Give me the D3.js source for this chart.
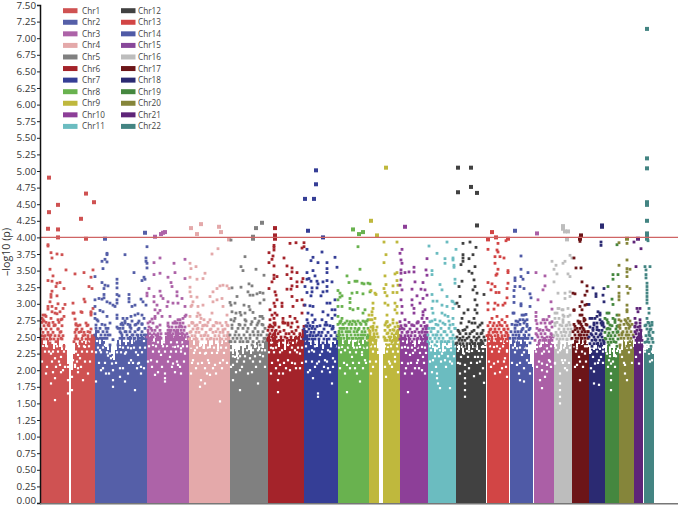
<!DOCTYPE html>
<html lang="en">
<head>
<meta charset="utf-8">
<title>Manhattan plot</title>
<script src="https://cdn.jsdelivr.net/npm/d3@7"></script>
<style>
html, body { margin: 0; padding: 0; background: #fff; }
svg { display: block; font-family: "Open Sans", sans-serif; }
</style>
</head>
<body>
<div id="chart"></div>
<script>
var chrNames = ["Chr1","Chr2","Chr3","Chr4","Chr5","Chr6","Chr7","Chr8","Chr9","Chr10","Chr11","Chr12","Chr13","Chr14","Chr15","Chr16","Chr17","Chr18","Chr19","Chr20","Chr21","Chr22"];
var chrColors = ["#cf5252","#555fa8","#ad63a8","#e4a9aa","#808080","#a4232a","#353e96","#69b24f","#bfb83d","#8d3f98","#6bbcc0","#414141","#d24545","#4f5aa6","#ab5fa6","#bdbdbd","#6c1518","#2b2a72","#45873f","#85853a","#5e2478","#438482"];
var legendChr15Color = "#88489a";
var chrStarts = [0,54,106,148,189,227,263,297,328,359,387,415,446,469,493,513,531,548,564,578,593,603];
var chrLengths = [54,52,42,41,38,36,34,31,31,28,28,30,22,23,20,18,17,16,14,15,9,10];
var yTicks = [0,0.25,0.5,0.75,1,1.25,1.5,1.75,2,2.25,2.5,2.75,3,3.25,3.5,3.75,4,4.25,4.5,4.75,5,5.25,5.5,5.75,6,6.25,6.5,6.75,7,7.25,7.5];
var threshold = 4;

// top of the solid mass of points, one value per 2 position units
var chr1Tops = [2.48,2.4,2.35,2.45,2.52,2.4,2.32,2.38,2.46,2.35,2.3,2.4,2.3,2.1,0,2,2.25,2.42,2.38,2.46,2.5,2.44,2.4,2.52,2.46,2.5,2.55];
var chr2Tops = [2.6,2.48,2.4,2.5,2.44,2.35,2.3,2.4,2.25,2.15,2.3,2.46,2.38,2.52,2.45,2.38,2.46,2.52,2.4,2.5,2.43,2.55,2.45,2.52,2.48,2.55];
var chr3Tops = [2.6,2.5,2.55,2.42,2.48,2.56,2.5,2.38,2.44,2.52,2.58,2.62,2.55,2.48,2.58,2.62,2.52,2.58,2.5,2.45,2.52];
var chr4Tops = [2.5,2.45,2.38,2.5,2.42,2.35,2.4,2.32,2.4,2.45,2.3,2.38,2.45,2.4,2.32,2.5,2.4,2.45,2.48,2.52,2.55];
var chr5Tops = [2.38,2.25,2.32,2.2,2.3,2.38,2.25,2.33,2.38,2.3,2.25,2.38,2.33,2.43,2.3,2.38,2.33,2.43,2.48];
var chr6Tops = [2.55,2.4,2.5,2.6,2.45,2.35,2.48,2.4,2.3,2.45,2.38,2.48,2.4,2.5,2.42,2.52,2.45,2.6];
var chr7Tops = [2.6,2.52,2.42,2.38,2.48,2.4,2.35,2.45,2.4,2.32,2.4,2.48,2.4,2.35,2.42,2.4,2.45];
var chr8Tops = [2.6,2.5,2.4,2.45,2.52,2.4,2.46,2.35,2.42,2.48,2.38,2.5,2.4,2.45,2.52,2.55];
var chr9Tops = [2.6,2.5,2.55,2.45,2.25,0,0,2.25,2.45,2.4,2.5,2.45,2.55,2.5,2.6,2.55];
var chr10Tops = [2.5,2.45,2.52,2.4,2.5,2.45,2.4,2.35,2.48,2.4,2.52,2.45,2.55,2.55];
var chr11Tops = [2.42,2.38,2.33,2.28,2.38,2.33,2.42,2.28,2.36,2.42,2.33,2.38,2.42,2.38];
var chr12Tops = [2.38,2.3,2.38,2.25,2.33,2.38,2.3,2.38,2.33,2.42,2.3,2.38,2.42,2.33,2.38];
var chr13Tops = [2.55,2.45,2.52,2.4,2.48,2.55,2.45,2.5,2.4,2.48,2.55];
var chr14Tops = [2.4,2.5,2.35,2.45,2.52,2.4,2.5,2.55,2.4,2.25,2.1,2.05];
var chr15Tops = [2.3,2.4,2.45,2.35,2.4,2.5,2.4,2.45,2.5,2.4];
var chr16Tops = [2.35,2.4,2.45,2.3,2.4,2.35,2.45,2.38,2.4];
var chr17Tops = [2.4,2.45,2.35,2.4,2.5,2.4,2.45,2.4,2.35];
var chr18Tops = [2.25,2.38,2.3,2.33,2.43,2.3,2.38,2.33];
var chr19Tops = [2.3,2.38,2.25,2.33,2.2,2.33,2.3];
var chr20Tops = [2.4,2.3,2.45,2.35,2.5,2.4,2.45,2.35];
var chr21Tops = [2.4,2.5,2.55,2.6,2.45];
var chr22Tops = [2.3,2.38,2.33,2.38,2.25];

// sparse points: [position within chromosome, -log10 p]
var chr1Points = [[8,4.9],[8,4.38],[17,4.49],[7,4.13],[17,4.12],[17,4],[40,4.28],[45,4.66],[53,4.53],[45,3.98],[7,3.87],[7,3.89],[10,3.77],[11,3.69],[16,3.75],[21,3.74],[9,3.52],[25,3.51],[34,3.45],[43,3.47],[52,3.51],[50,3.4],[12,3.42],[7,3.35],[11,3.34],[19,3.32],[16,3.31],[15,3.26],[11,3.19],[10,3.14],[10,3.1],[16,3.12],[23,3.23],[48,3.26],[51,3.23],[43,3.07],[44,3.03],[32,3.01],[24,2.99],[17,3],[9,3.03],[7,2.96],[11,2.96],[7,2.92],[11,2.88],[15,2.93],[22,2.93],[19,2.88],[16,2.85],[23,2.81],[21,2.77],[17,2.76],[34,2.77],[41,2.87],[33,2.86],[52,2.93],[50,2.88],[50,2.83],[1,2.78],[4,2.83],[2,2.76],[8,2.71],[14,2.68],[35,2.7],[47,2.68],[2,2.83],[5,2.81],[3,2.74],[7,2.68],[10,2.78],[14,2.86],[20,2.76],[14,2.68],[17,2.62],[20,2.58],[7,2.53],[3,2.51],[10,2.53],[20,2.48],[15,2.43],[9,2.41],[2,2.33],[23,2.36],[32,2.86],[40,2.88],[35,2.68],[39,2.68],[35,2.61],[40,2.58],[45,2.71],[47,2.58],[44,2.53],[35,2.48],[33,2.43],[39,2.41],[50,2.86],[52,2.46],[47,2.41],[52,2.33]];
var chr2Points = [[10,3.98],[12,3.76],[12,3.74],[7,3.64],[10,3.67],[12,3.63],[8,3.53],[0,3.41],[30,3.74],[39,3.47],[50,4.07],[52,3.86],[51,3.69],[51,3.64],[52,3.61],[52,3.54],[49,3.4],[47,3.35],[50,3.37],[7,3.32],[10,3.28],[13,3.27],[9,3.23],[22,3.37],[22,3.31],[22,3.24],[9,3.14],[9,3.09],[12,3.03],[15,3.01],[18,2.98],[22,3.14],[24,3.12],[22,3.06],[22,3.01],[20,2.96],[34,3.14],[34,3.08],[34,3.03],[40,2.98],[37,2.96],[46,3.07],[48,3.03],[51,2.98],[0,2.96],[4,3.08],[7,3.07],[0,3.06],[5,2.9],[8,2.88],[12,2.81],[0,2.85],[0,2.78],[2,2.76],[22,2.83],[22,2.78],[28,2.78],[32,2.78],[36,2.81],[40,2.83],[43,2.85],[47,2.83],[49,2.78],[37,2.74],[15,2.71],[1,2.68],[22,2.65],[27,2.71],[30,2.71],[25,2.63],[35,2.65],[40,2.68],[47,2.7],[3,2.58],[10,2.68],[13,2.63],[15,2.53],[10,2.48],[18,2.46],[23,2.63],[28,2.68],[26,2.56],[31,2.58],[33,2.48],[38,2.53],[43,2.61],[46,2.48],[41,2.43],[48,2.38],[35,2.68],[43,2.71],[23,2.38],[15,2.38]];
var chr3Points = [[8,4.01],[14,4.05],[16,4.07],[18,4.08],[13,3.69],[7,3.62],[27,3.61],[38,3.67],[7,3.44],[13,3.46],[28,3.47],[21,3.4],[38,3.38],[24,3.32],[25,3.26],[2,3.23],[0,3.16],[0,3.12],[7,3.11],[13,3.19],[14,3.12],[16,3.08],[30,3.18],[35,3.08],[30,3.12],[21,3.03],[26,3.01],[31,3.01],[7,3.03],[10,2.98],[8,2.91],[13,2.9],[11,2.86],[20,2.96],[15,2.81],[8,2.81],[5,2.77],[1,2.71],[23,2.81],[38,2.96],[38,2.81],[33,2.76],[28,2.71],[21,2.67],[33,2.67],[10,2.65],[3,2.73],[8,2.78],[4,2.63],[13,2.68],[9,2.53],[3,2.48],[6,2.41],[14,2.48],[23,2.58],[28,2.73],[31,2.76],[36,2.78],[39,2.83],[29,2.58],[34,2.66],[38,2.53],[33,2.43],[26,2.38],[21,2.33],[13,2.33]];
var chr4Points = [[2,4.14],[8,4.05],[12,4.2],[30,4.16],[32,4.08],[40,3.97],[29,3.83],[23,3.75],[1,3.61],[2,3.53],[7,3.56],[1,3.4],[8,3.37],[14,3.38],[16,3.46],[24,3.18],[28,3.23],[31,3.27],[34,3.28],[38,3.27],[40,3.23],[1,3.25],[1,3.18],[2,3.11],[4,3.03],[3,2.98],[8,3.1],[9,2.96],[14,2.98],[21,3.11],[24,3.03],[28,3.06],[33,3.08],[34,2.96],[23,2.86],[38,2.83],[8,2.81],[11,2.83],[15,2.76],[21,2.76],[28,2.71],[1,2.81],[3,2.71],[8,2.68],[14,2.67],[24,2.67],[31,2.71],[38,2.68],[2,2.96],[9,2.86],[12,2.78],[4,2.71],[9,2.63],[16,2.68],[21,2.61],[27,2.58],[34,2.61],[39,2.53],[2,2.58],[16,2.53],[22,2.48],[31,2.43],[36,2.38],[9,2.43],[2,2.36],[12,2.33],[21,2.31]];
var chr5Points = [[32,4.22],[26,4.14],[23,4.01],[23,3.98],[1,3.96],[15,3.71],[11,3.56],[13,3.5],[26,3.52],[34,3.43],[19,3.3],[22,3.27],[2,3.24],[11,3.25],[18,3.18],[20,3.13],[23,3.13],[27,3.15],[30,3.17],[33,3.16],[7,3.11],[0,3.02],[5,3.01],[14,2.98],[19,2.96],[34,3.06],[30,3.01],[2,2.88],[10,2.87],[15,2.86],[20,2.91],[23,2.87],[30,2.81],[33,2.78],[5,2.78],[15,2.76],[22,2.73],[28,2.71],[10,2.68],[2,2.68],[25,2.78],[32,2.81],[18,2.63],[27,2.68],[33,2.68],[23,2.58],[20,2.53],[28,2.53],[35,2.48],[17,2.43],[30,2.38],[22,2.38],[1,2.98],[6,2.86],[1,2.76],[11,2.83],[8,2.63],[15,2.68],[5,2.53],[11,2.48],[0,2.43]];
var chr6Points = [[7,4.14],[7,4.03],[7,3.98],[6,3.88],[6,3.85],[6,3.81],[1,3.77],[5,3.72],[4,3.67],[1,3.62],[6,3.57],[16,3.69],[22,3.91],[28,3.92],[36,3.92],[36,3.86],[34,3.84],[19,3.57],[24,3.54],[24,3.48],[19,3.44],[23,3.38],[29,3.47],[35,3.38],[29,3.33],[34,3.33],[29,3.26],[24,3.27],[19,3.22],[23,3.22],[6,3.43],[6,3.38],[9,3.41],[4,3.33],[1,3.23],[7,3.18],[8,3.13],[9,3.06],[6,3.01],[2,2.91],[7,2.96],[14,3.01],[14,2.96],[24,3.11],[25,2.96],[29,3.05],[34,3.06],[36,2.98],[22,2.81],[15,2.78],[7,2.86],[6,2.78],[2,2.76],[3,2.66],[7,2.68],[15,2.71],[20,2.68],[29,2.73],[34,2.86],[36,2.66],[4,2.83],[9,2.83],[2,2.68],[7,2.71],[15,2.73],[20,2.71],[27,2.78],[12,2.58],[24,2.58],[5,2.53],[29,2.48],[19,2.48],[0,2.48],[32,2.53],[9,2.43],[14,2.38],[22,2.41],[30,2.41],[2,2.38]];
var chr7Points = [[12,5.01],[12,4.8],[1,4.58],[10,4.58],[4,4.1],[19,4],[3,3.82],[18,3.78],[31,3.7],[9,3.7],[7,3.65],[14,3.62],[23,3.62],[3,3.47],[9,3.5],[23,3.53],[23,3.47],[33,3.55],[11,3.42],[3,3.37],[5,3.38],[7,3.34],[13,3.34],[19,3.33],[23,3.35],[28,3.33],[14,3.3],[1,3.26],[8,3.24],[13,3.24],[23,3.26],[19,3.18],[8,3.18],[3,3.17],[7,3.12],[17,3.12],[23,3.19],[1,2.98],[6,2.97],[9,2.96],[23,3.01],[26,3.01],[31,3.06],[31,2.91],[28,2.91],[19,2.88],[24,2.83],[31,2.83],[4,2.86],[8,2.83],[18,2.76],[11,2.76],[3,2.76],[21,2.68],[29,2.63],[9,2.66],[3,2.66],[4,2.71],[13,2.66],[8,2.63],[3,2.58],[23,2.68],[28,2.78],[29,2.66],[6,2.53],[14,2.53],[19,2.41],[24,2.38],[31,2.36],[9,2.41],[3,2.43]];
var chr8Points = [[15,4.12],[21,4.05],[25,4.08],[20,3.86],[22,3.52],[9,3.42],[11,3.32],[17,3.34],[19,3.34],[24,3.31],[26,3.3],[30,3.31],[32,3.3],[0,3.2],[2,3.16],[4,3.12],[2,3.1],[14,3.16],[19,3.17],[25,3.15],[32,3.18],[12,3.08],[12,3.02],[0,3.06],[4,2.96],[0,2.96],[12,2.93],[15,2.91],[20,2.93],[25,2.86],[27,2.91],[0,2.81],[4,2.78],[2,2.71],[7,2.71],[12,2.73],[17,2.73],[22,2.71],[27,2.73],[30,2.76],[2,2.73],[4,2.63],[10,2.58],[15,2.48],[22,2.43],[25,2.53],[0,2.53],[7,2.43],[20,2.61],[2,2.38],[12,2.36],[27,2.36]];
var chr9Points = [[17,5.05],[2,4.25],[8,4.03],[15,3.93],[28,3.93],[17,3.74],[15,3.62],[16,3.42],[28,3.47],[26,3.45],[17,3.29],[28,3.35],[29,3.28],[24,3.27],[15,3.23],[16,3.17],[18,3.12],[24,3.17],[28,3.17],[6,3.16],[2,3.2],[7,3.14],[16,3.01],[19,2.98],[4,3.01],[4,2.93],[3,2.88],[26,3.01],[28,2.96],[26,2.91],[28,2.86],[18,2.83],[0,2.83],[3,2.76],[18,2.73],[19,2.66],[16,2.68],[24,2.76],[29,2.66],[4,2.66],[3,2.83],[1,2.76],[6,2.78],[4,2.63],[1,2.58],[18,2.73],[21,2.68],[24,2.61],[19,2.56],[16,2.48],[23,2.43],[28,2.58],[6,2.43],[1,2.38],[19,2.38],[26,2.33],[8,2.31]];
var chr10Points = [[5,4.16],[2,3.82],[0,3.76],[1,3.66],[2,3.61],[27,3.68],[1,3.51],[1,3.46],[5,3.47],[9,3.48],[14,3.55],[14,3.48],[26,3.51],[27,3.43],[23,3.32],[15,3.33],[1,3.36],[0,3.28],[2,3.21],[12,3.22],[21,3.22],[25,3.21],[27,3.13],[23,3.08],[17,3.12],[1,3.06],[2,2.96],[12,3.06],[12,2.98],[14,2.93],[14,2.86],[20,3.01],[25,2.91],[23,2.83],[27,2.78],[22,2.78],[17,2.71],[12,2.68],[2,2.86],[0,2.73],[5,2.68],[25,2.66],[5,2.76],[12,2.68],[18,2.73],[23,2.88],[2,2.63],[8,2.58],[15,2.58],[22,2.58],[27,2.63],[3,2.48],[12,2.43],[18,2.48],[25,2.43],[8,2.38],[17,2.36]];
var chr11Points = [[1,3.87],[19,3.93],[9,3.76],[17,3.68],[25,3.69],[17,3.61],[26,3.55],[26,3.58],[4,3.5],[4,3.44],[27,3.31],[12,3.29],[14,3.21],[19,3.11],[4,3.14],[5,3.04],[9,3.04],[14,2.98],[19,2.96],[24,3.04],[25,2.93],[4,2.93],[5,2.86],[14,2.86],[17,2.83],[20,2.81],[25,2.78],[7,2.76],[2,2.73],[10,2.68],[15,2.71],[22,2.68],[27,2.63],[4,2.63],[17,2.58],[9,2.53],[2,2.48],[24,2.48],[14,2.43],[20,2.43],[7,2.38],[26,2.38],[28,3.82],[25,3.66],[27,3.37],[25,3.03],[27,3]];
var chr12Points = [[2,5.05],[15,5.05],[2,4.68],[15,4.76],[21,4.67],[21,4.18],[7,3.91],[14,3.93],[20,3.85],[7,3.74],[7,3.69],[7,3.64],[13,3.68],[17,3.74],[5,3.59],[13,3.49],[16,3.46],[19,3.56],[6,3.34],[18,3.36],[19,3.26],[3,3.26],[17,3.21],[21,3.16],[4,3.11],[28,3.14],[19,3.06],[1,3.01],[21,2.98],[3,2.96],[19,2.91],[8,2.86],[12,2.91],[21,2.86],[6,2.78],[18,2.78],[13,2.73],[19,2.71],[24,2.68],[9,2.61],[3,2.58],[16,2.58],[26,2.56],[4,2.48],[11,2.48],[21,2.48],[16,2.43],[1,2.41],[26,2.43],[8,2.36],[19,2.36]];
var chr13Points = [[5,4.08],[9,4],[21,3.98],[19,3.95],[1,3.97],[11,3.91],[1,3.82],[10,3.81],[11,3.78],[8,3.71],[13,3.71],[17,3.69],[8,3.61],[11,3.52],[10,3.45],[9,3.43],[21,3.5],[21,3.47],[1,3.32],[5,3.3],[8,3.26],[21,3.31],[20,3.23],[4,3.21],[9,3.17],[12,3.17],[20,3.09],[1,3.01],[8,3.01],[11,2.98],[16,2.98],[1,2.91],[7,2.92],[18,3.01],[5,2.78],[10,2.81],[15,2.76],[20,2.81],[7,2.71],[13,2.68],[3,2.61],[8,2.58],[17,2.61],[20,2.56],[2,2.53],[12,2.48],[18,2.43],[7,2.41],[1,2.38],[13,2.36]];
var chr14Points = [[5,4.1],[11,3.72],[11,3.52],[5,3.39],[11,3.41],[13,3.37],[18,3.47],[5,3.35],[5,3.26],[10,3.26],[14,3.23],[4,3.2],[20,3.15],[21,3.09],[4,3.11],[4,3.02],[11,3],[11,2.97],[20,2.96],[3,2.86],[12,2.83],[16,2.84],[8,2.73],[13,2.76],[5,2.68],[17,2.66],[4,2.86],[14,2.83],[10,2.76],[17,2.76],[7,2.68],[14,2.71],[19,2.61],[12,2.61],[5,2.58],[17,2.48],[10,2.48],[4,2.43],[20,2.41],[14,2.36]];
var chr15Points = [[3,4.06],[2,3.47],[11,3.42],[11,3.27],[9,3.21],[4,3.06],[17,3.03],[18,2.92],[2,2.87],[2,2.81],[2,2.75],[3,2.7],[3,2.63],[9,2.76],[13,2.76],[16,2.71],[11,2.71],[10,2.76],[15,2.81],[18,2.73],[6,2.61],[13,2.61],[3,2.53],[18,2.53],[10,2.48],[15,2.43],[5,2.41],[11,2.36]];
var chr16Points = [[9,4.17],[9,4.13],[11,4.09],[14,4.09],[13,3.97],[16,3.73],[18,3.69],[9,3.61],[11,3.64],[2,3.58],[0,3.52],[-2,3.64],[3,3.45],[14,3.45],[16,3.41],[0,3.33],[4,3.16],[11,3.16],[16,3.18],[11,3.08],[16,3.11],[4,2.93],[3,2.86],[1,2.78],[9,2.91],[14,2.93],[9,2.83],[14,2.81],[9,2.76],[16,2.68],[5,2.93],[1,2.86],[8,2.91],[5,2.78],[10,2.81],[16,2.83],[1,2.71],[6,2.68],[13,2.68],[10,2.58],[3,2.53],[16,2.53],[13,2.46],[5,2.41]];
var chr17Points = [[9,4.03],[8,3.98],[8,3.94],[2,3.69],[4,3.54],[9,3.54],[10,3.33],[15,3.27],[1,3.16],[3,3.15],[13,3.13],[15,3.19],[10,3.03],[13,2.98],[8,2.96],[10,2.91],[15,2.99],[2,2.9],[10,2.83],[13,2.76],[8,2.73],[3,2.66],[10,2.66],[2,2.91],[8,2.83],[12,2.78],[7,2.71],[15,2.68],[3,2.61],[12,2.61],[16,2.58],[8,2.53],[5,2.43],[13,2.43],[2,2.38],[10,2.36]];
var chr18Points = [[13,4.18],[13,4.16],[12,3.93],[12,3.88],[4,3.24],[7,3.15],[7,3.11],[15,3.23],[14,3.13],[15,3.03],[0,2.99],[9,2.88],[11,2.83],[13,2.73],[13,2.68],[1,2.78],[6,2.78],[14,2.71],[8,2.71],[4,2.63],[3,2.78],[8,2.81],[11,2.86],[11,2.76],[14,2.68],[5,2.68],[8,2.61],[3,2.53],[11,2.53],[6,2.46],[15,2.43],[3,2.36],[11,2.36]];
var chr19Points = [[12,3.89],[13,3.44],[8,3.44],[8,3.37],[3,3.26],[7,3.07],[8,2.99],[2,2.86],[0,2.78],[3,2.71],[3,2.63],[8,2.78],[4,2.86],[2,2.76],[5,2.68],[12,2.83],[10,2.76],[12,2.66],[13,2.58],[4,2.56],[0,2.48],[9,2.43],[4,2.38],[12,2.36]];
var chr20Points = [[8,3.98],[8,3.91],[0,3.92],[0,3.58],[8,3.66],[8,3.53],[8,3.48],[8,3.41],[11,3.52],[0,3.26],[0,3.16],[0,3.11],[8,3.26],[11,3.23],[9,3.16],[0,3.06],[8,2.98],[8,2.88],[0,2.83],[9,2.78],[0,2.76],[8,2.71],[0,2.66],[11,2.66],[8,2.91],[6,2.76],[1,2.68],[10,2.68],[3,2.56],[8,2.53],[11,2.43],[1,2.38],[8,2.36]];
var chr21Points = [[4,3.98],[0,3.93],[7,3.83],[2,3.56],[3,2.93],[6,2.93],[4,2.88],[1,2.78],[6,2.76],[2,2.71],[6,2.66],[1,2.66],[4,2.48],[1,2.58],[6,2.61],[1,2.33],[8,2.36]];
var chr22Points = [[3,7.14],[3,5.19],[3,5.04],[3,4.53],[3,4.49],[3,4.25],[3,4.06],[3,4.02],[3,3.98],[4,3.95],[1,3.56],[6,3.56],[2,3.51],[2,3.44],[2,3.39],[3,3.31],[3,3.26],[3,3.21],[3,3.16],[3,3.11],[3,3.06],[3,3.01],[5,2.93],[5,2.86],[3,2.78],[5,2.71],[2,2.68],[8,2.68],[6,2.61],[5,2.53],[8,2.48],[3,2.43],[7,2.36],[5,2.28]];

// crowded band just above the mass: [-log10 p, [positions within chromosome]]
var chr1Rows = [[2.72,[1,5,12,18]],[2.67,[3,8,13,21,37,46]],[2.62,[0,5,10,17,36,41,50]],[2.57,[2,7,12,19,34,38,43,49]],[2.52,[1,4,9,14,18,22,35,42,47,51]],[2.47,[0,3,6,10,13,17,21,34,37,41,45,49,53]]];
var chr2Rows = [[2.74,[3,30,44]],[2.69,[7,26,33,41,47]],[2.63,[1,5,11,28,36,44,50]],[2.58,[3,8,12,25,30,35,40,47]],[2.53,[0,6,10,13,27,32,37,42,46,49,51]],[2.48,[2,5,8,12,25,29,34,36,40,44,48,51]]];
var chr3Rows = [[2.71,[6,21,26,30,33,36]],[2.65,[2,10,22,25,29,32,35,38]],[2.6,[1,5,8,13,21,24,27,30,34,37]],[2.55,[3,7,11,14,19,23,26,29,33,36,40]],[2.5,[0,4,6,10,13,20,22,25,28,31,35,38,41]]];
var chr4Rows = [[2.72,[3,11,19,27,37]],[2.67,[0,6,14,18,25,33,39]],[2.62,[4,8,13,22,29,36]],[2.57,[1,7,10,17,24,31,34,39]],[2.52,[3,6,12,15,19,26,30,35,38]],[2.47,[0,5,8,13,18,21,25,28,33,37,40]]];
var chr5Rows = [[2.74,[4,16,29]],[2.69,[9,21,32]],[2.63,[2,13,25,35]],[2.58,[6,17,28,33]],[2.53,[0,9,14,24,31,37]],[2.48,[3,7,16,20,27,34]],[2.43,[1,5,10,13,18,23,29,33,36]]];
var chr6Rows = [[2.71,[6,17,24]],[2.65,[1,5,11,23,30]],[2.6,[0,4,8,16,28,35]],[2.55,[2,6,10,18,21,26,32]],[2.5,[1,4,8,13,17,23,28,34]],[2.45,[0,2,5,7,11,15,21,25,31,35]]];
var chr7Rows = [[2.72,[9,22]],[2.67,[2,6,16,26]],[2.62,[0,5,11,20,28]],[2.57,[1,7,10,15,18,24,31]],[2.52,[3,6,9,12,17,22,27,33]],[2.47,[0,2,5,8,11,15,20,25,30,32]]];
var chr8Rows = [[2.74,[3,9,15,20,25,29]],[2.69,[0,5,11,14,18,23,28]],[2.63,[2,6,9,13,17,21,26,30]],[2.58,[1,4,8,12,16,19,24,27]],[2.53,[2,5,9,13,17,20,23,27,30]],[2.48,[0,3,6,11,14,18,21,25,29]]];
var chr9Rows = [[2.71,[5,17,24,28]],[2.65,[2,8,19,26,30]],[2.6,[0,4,7,16,21,25,29]],[2.55,[1,5,8,18,23,27]],[2.5,[3,6,9,15,20,22,26,30]],[2.45,[0,2,5,7,16,18,21,24,28]]];
var chr10Rows = [[2.72,[9,18,24]],[2.67,[1,6,14,21,27]],[2.62,[0,4,10,17,23,26]],[2.57,[2,7,12,19,22,25,27]],[2.52,[1,5,8,11,15,20,24,27]],[2.47,[0,3,6,10,14,17,21,23,26]]];
var chr11Rows = [[2.74,[4,12,21]],[2.69,[8,17,25]],[2.63,[1,6,13,21,27]],[2.58,[3,10,16,23]],[2.53,[0,5,8,13,19,25]],[2.48,[2,7,11,15,22,27]],[2.43,[0,4,9,13,17,21,25]]];
var chr12Rows = [[2.71,[5,16,26]],[2.65,[11,22]],[2.6,[2,7,18,27]],[2.55,[4,10,14,21,25]],[2.5,[1,7,13,18,23,28]],[2.45,[3,6,9,15,20,25,29]],[2.4,[0,4,7,11,14,17,22,24,27]]];
var chr13Rows = [[2.72,[3,12,18]],[2.67,[1,6,10,15,20]],[2.62,[4,8,12,17,21]],[2.57,[2,6,10,14,19]],[2.52,[0,4,8,11,15,18,21]],[2.47,[2,5,9,13,16,20]]];
var chr14Rows = [[2.74,[6,15]],[2.69,[2,10,17]],[2.63,[5,13,20]],[2.58,[1,8,11,16]],[2.53,[3,6,9,14,19]],[2.48,[0,5,8,12,15,18,22]]];
var chr15Rows = [[2.71,[7,16]],[2.65,[12,18]],[2.6,[5,9,15]],[2.55,[2,7,11,17]],[2.5,[4,8,13,16,19]],[2.45,[1,6,9,12,15,18]]];
var chr16Rows = [[2.72,[3,9,15]],[2.67,[1,8,12]],[2.62,[5,10,14,17]],[2.57,[2,7,12,16]],[2.52,[0,4,8,11,15]],[2.47,[3,6,9,13,17]]];
var chr17Rows = [[2.74,[6,12]],[2.69,[2,9,14]],[2.63,[5,8,11]],[2.58,[1,6,10,13,16]],[2.53,[3,7,9,12,15]],[2.48,[0,4,6,10,13,16]]];
var chr18Rows = [[2.71,[5,12]],[2.65,[1,8,15]],[2.6,[4,10,13]],[2.55,[2,7,12]],[2.5,[0,5,9,13]],[2.45,[3,7,11,14]],[2.4,[1,5,8,12,15]]];
var chr19Rows = [[2.72,[3,10]],[2.67,[7,13]],[2.62,[2,5,11]],[2.57,[0,8,12]],[2.52,[3,6,10]],[2.47,[1,5,8,13]],[2.42,[3,6,11]]];
var chr20Rows = [[2.74,[2,7,11]],[2.69,[5,9,13]],[2.63,[1,7,10]],[2.58,[4,8,12]],[2.53,[0,3,7,10,14]],[2.48,[2,5,9,12]]];
var chr21Rows = [[2.71,[2,6]],[2.65,[1,4]],[2.6,[3,7]],[2.55,[2,5]],[2.5,[0,4,7]],[2.45,[2,5,8]]];
var chr22Rows = [[2.72,[4,8]],[2.67,[1,6]],[2.62,[3,7]],[2.57,[5,9]],[2.52,[2,6]],[2.47,[4,8]],[2.42,[1,5,9]]];

// white specks left in the mass: [position within chromosome, -log10 p]
var chr1Holes = [[10,2.25],[14,2.18],[12,2.28],[20,2.2],[19,2.08],[10,1.8],[14,1.88],[14,1.55],[37,2.23],[39,2.18],[34,2.08],[47,1.95],[37,2.03],[44,2.35],[32,2.15],[27,2.25],[31,2.1],[27,2.05],[28,2.3],[31,1.9],[27,1.85],[31,1.7],[27,1.65],[5,1.95],[22,2],[42,1.85]];
var chr2Holes = [[5,2.3],[10,2.38],[15,2.25],[16,2.18],[17,2.1],[18,2],[18,1.85],[25,2.35],[30,2.25],[36,2.33],[43,2.23],[43,2.1],[36,2.15],[46,2.05],[25,2.03],[6,2],[11,1.95],[1,1.83],[30,1.83],[40,1.7],[18,1.75],[25,1.9],[13,2.22],[18,2.2]];
var chr3Holes = [[6,2.38],[13,2.33],[4,2.15],[8,1.93],[18,1.95],[18,1.88],[18,1.83],[23,2.2],[28,2.35],[34,2.33],[26,2.1],[38,2.25],[31,2.08],[14,2.23],[34,1.95]];
var chr4Holes = [[12,2.38],[6,2.3],[16,2.25],[22,2.4],[29,2.3],[34,2.15],[9,2.1],[19,2.15],[26,2.08],[12,1.85],[21,1.93],[11,1.75],[31,1.53],[4,2.15],[16,1.8]];
var chr5Holes = [[8,2.25],[5,2.35],[11,2.38],[8,2.18],[3,2.08],[10,2],[3,1.85],[10,1.7],[5,2.2],[25,2.35],[30,2.23],[20,2.18],[18,1.95],[28,1.8],[32,2.3]];
var chr6Holes = [[5,2.33],[14,2.3],[20,2.38],[27,2.3],[32,2.25],[10,2.15],[20,2.15],[27,2.1],[32,2.03],[11,1.95],[10,1.85],[22,2],[10,1.67],[12,2.08]];
var chr7Holes = [[8,2.3],[16,2.23],[24,2.3],[13,2.1],[21,2.15],[29,2.18],[14,1.65],[14,1.6],[9,1.88],[24,2.03],[28,1.8],[18,1.98],[6,2]];
var chr8Holes = [[7,2.3],[4,2.35],[14,2.2],[22,2.35],[9,2.08],[22,1.83],[9,1.67],[27,2.15],[17,2.03],[24,2.23]];
var chr9Holes = [[2,1.95],[21,2.1],[19,2.35],[26,2.2],[17,1.9]];
var chr10Holes = [[5,2.35],[10,2.23],[15,2.3],[22,2.35],[18,2.15],[8,2.1],[15,2.03],[22,2],[8,1.67],[5,1.95],[23,2.2]];
var chr11Holes = [[9,2.33],[14,2.25],[20,2.35],[9,1.95],[9,1.88],[10,1.8],[12,1.73],[17,2.15],[22,1.73],[5,2.15],[24,2.1]];
var chr12Holes = [[8,2.25],[13,2.28],[6,2.35],[9,2.08],[9,1.98],[9,1.88],[9,1.8],[9,1.7],[9,1.6],[19,2.2],[24,2.13],[18,1.91],[28,1.81],[21,2.33],[4,2.1]];
var chr13Holes = [[7,2.35],[13,2.33],[18,2.18],[7,2.1],[15,2.03],[20,2.3],[8,1.95],[20,1.9]];
var chr14Holes = [[7,2.33],[12,2.23],[7,2.08],[9,1.95],[10,1.85],[14,1.83],[17,2.15],[17,2.33],[20,1.95]];
var chr15Holes = [[3,2.35],[8,2.25],[13,2.33],[8,2.1],[13,2.08],[8,2],[13,1.98],[11,1.9],[6,1.85],[15,2.15],[8,1.73]];
var chr16Holes = [[6,1.95],[6,1.8],[6,1.7],[6,1.6],[6,1.5],[8,2.15],[13,2.3],[11,2.15],[6,2.3],[1,2.1],[13,2]];
var chr17Holes = [[5,2.33],[7,2.2],[10,2.38],[5,2.08],[8,1.85],[13,2.25]];
var chr18Holes = [[5,2.33],[11,2.35],[6,2.1],[5,1.98],[5,1.8],[10,1.78],[10,2.15]];
var chr19Holes = [[5,2.3],[4,2.15],[6,2.1],[6,1.95],[6,1.85],[6,1.7],[2,2.25],[10,2.23]];
var chr20Holes = [[3,2.2],[6,2.08],[6,1.95],[8,1.85],[1,2.3]];
var chr21Holes = [[5,2.1],[2,2.2]];
var chr22Holes = [[5,2.25],[8,2.15],[3,2.33]];

// more specks, by height: [-log10 p, [positions within chromosome]]
var chr1HoleRows = [[2.43,[9,13,20,35,41,48]],[2.36,[2,6,16,22,33,38,43,48]],[2.28,[4,8,17,23,35,41,46,51]],[2.13,[1,11,18,36,44,49]],[2.05,[6,15,24,34,40]],[1.97,[12,20,37]]];
var chr2HoleRows = [[2.44,[2,5,15,29,33,40,49]],[2.34,[3,8,20,28,33,39,45,50]],[2.27,[1,6,12,22,26,31,41,47]],[2.11,[4,10,21,34,38,44]],[2.03,[8,28,42,49]],[1.95,[14,33,46]]];
var chr3HoleRows = [[2.42,[6,11,17,24,30,35]],[2.36,[2,9,16,20,26,31,36,40]],[2.28,[6,12,18,24,29,34]],[2.13,[1,10,21,30,37]],[2.05,[5,15,25,33]],[1.97,[11,28]]];
var chr4HoleRows = [[2.44,[9,16,22,29,37]],[2.34,[2,8,14,19,25,32,37]],[2.26,[5,11,17,23,28,35]],[2.11,[3,13,20,31,38]],[2.03,[7,16,24,33]],[1.95,[2,18,27]]];
var chr5HoleRows = [[2.36,[3,8,15,21,26,31]],[2.3,[1,6,13,17,23,28,35]],[2.21,[3,10,15,25,33]],[2.13,[7,14,23,30]],[2.05,[1,12,26,35]],[1.97,[6,22]]];
var chr6HoleRows = [[2.42,[4,10,16,22,29]],[2.34,[3,8,17,24,30,34]],[2.27,[1,6,12,22,29]],[2.11,[4,16,24,34]],[2.03,[8,18,28]],[1.95,[3,15]]];
var chr7HoleRows = [[2.44,[2,12,20,25,31]],[2.36,[2,11,19,27,32]],[2.28,[5,10,18,26]],[2.13,[2,8,15,23,31]],[2.05,[11,20,29]],[1.97,[4,26]]];
var chr8HoleRows = [[2.45,[6,12,18,21,29]],[2.34,[1,10,16,19,26,29]],[2.27,[3,12,18,24]],[2.11,[6,15,21,28]],[2.03,[2,12,25]],[1.95,[7,19]]];
var chr9HoleRows = [[2.42,[4,17,21,24,29]],[2.36,[2,6,16,22,28]],[2.28,[4,18,24,29]],[2.13,[1,7,20,26]],[2.05,[4,16,23]],[1.97,[29]]];
var chr10HoleRows = [[2.44,[3,11,14,20,24]],[2.34,[2,8,12,18,25]],[2.26,[6,13,20,26]],[2.11,[2,11,17,24]],[2.03,[6,19]],[1.95,[12,25]]];
var chr11HoleRows = [[2.36,[2,6,11,15,19,23,27]],[2.3,[3,12,17,23]],[2.21,[7,11,20,26]],[2.13,[2,13,22]],[2.05,[8,18]],[1.97,[4]]];
var chr12HoleRows = [[2.35,[2,9,13,19,26,29]],[2.29,[2,11,16,23,27]],[2.2,[5,12,22,26]],[2.11,[2,15,21]],[2.03,[13,27]],[1.95,[4,24]]];
var chr13HoleRows = [[2.44,[2,8,14,20]],[2.36,[3,10,16]],[2.28,[5,12,20]],[2.13,[2,11,17]],[2.05,[4,19]],[1.97,[13]]];
var chr14HoleRows = [[2.45,[1,6,9,15,19]],[2.34,[3,10,15,20]],[2.27,[5,14]],[2.11,[2,10,19]],[2.03,[14]]];
var chr15HoleRows = [[2.42,[2,6,12,18]],[2.36,[6,11,17]],[2.28,[2,10,15]],[2.13,[5,16]],[2.05,[3,17]]];
var chr16HoleRows = [[2.44,[3,9,13]],[2.34,[2,10,16]],[2.27,[4,13]],[2.11,[1,9,15]],[2.03,[11]]];
var chr17HoleRows = [[2.45,[1,7,12]],[2.36,[2,13,15]],[2.28,[4,10]],[2.13,[8,14]],[2.05,[3,11]]];
var chr18HoleRows = [[2.34,[3,7,10,14]],[2.28,[2,8,14]],[2.2,[4,12]],[2.11,[9,14]],[2.03,[2]]];
var chr19HoleRows = [[2.36,[1,5,9,12]],[2.29,[1,8,12]],[2.21,[5,11]],[2.13,[8]],[2.05,[3,10]]];
var chr20HoleRows = [[2.45,[2,6,9,12]],[2.34,[3,8,12]],[2.27,[1,10]],[2.11,[5,13]]];
var chr21HoleRows = [[2.42,[5,8]],[2.27,[6]]];
var chr22HoleRows = [[2.36,[3,7]],[2.28,[1,8]],[2.13,[6]]];

var allTops = [chr1Tops,chr2Tops,chr3Tops,chr4Tops,chr5Tops,chr6Tops,chr7Tops,chr8Tops,chr9Tops,chr10Tops,chr11Tops,chr12Tops,chr13Tops,chr14Tops,chr15Tops,chr16Tops,chr17Tops,chr18Tops,chr19Tops,chr20Tops,chr21Tops,chr22Tops];
var allPoints = [chr1Points,chr2Points,chr3Points,chr4Points,chr5Points,chr6Points,chr7Points,chr8Points,chr9Points,chr10Points,chr11Points,chr12Points,chr13Points,chr14Points,chr15Points,chr16Points,chr17Points,chr18Points,chr19Points,chr20Points,chr21Points,chr22Points];
var allRows = [chr1Rows,chr2Rows,chr3Rows,chr4Rows,chr5Rows,chr6Rows,chr7Rows,chr8Rows,chr9Rows,chr10Rows,chr11Rows,chr12Rows,chr13Rows,chr14Rows,chr15Rows,chr16Rows,chr17Rows,chr18Rows,chr19Rows,chr20Rows,chr21Rows,chr22Rows];
var allHoles = [chr1Holes,chr2Holes,chr3Holes,chr4Holes,chr5Holes,chr6Holes,chr7Holes,chr8Holes,chr9Holes,chr10Holes,chr11Holes,chr12Holes,chr13Holes,chr14Holes,chr15Holes,chr16Holes,chr17Holes,chr18Holes,chr19Holes,chr20Holes,chr21Holes,chr22Holes];
var allHoleRows = [chr1HoleRows,chr2HoleRows,chr3HoleRows,chr4HoleRows,chr5HoleRows,chr6HoleRows,chr7HoleRows,chr8HoleRows,chr9HoleRows,chr10HoleRows,chr11HoleRows,chr12HoleRows,chr13HoleRows,chr14HoleRows,chr15HoleRows,chr16HoleRows,chr17HoleRows,chr18HoleRows,chr19HoleRows,chr20HoleRows,chr21HoleRows,chr22HoleRows];

var rowsToPairs = function(rows){
	var pairs = [];
	rows.forEach(function(r){
		r[1].forEach(function(pos){ pairs.push([pos, r[0]]); });
	});
	return pairs;
};

var w = 678, h = 507;

var x = d3.scaleLinear().domain([0, 637]).range([41, 678]);
var y = d3.scaleLinear().domain([0, 7.5]).range([503, 5]);
var size = d3.scaleThreshold().domain([3.97]).range([2.8, 4]);

var svg = d3.select("#chart").append("svg")
	.attr("width", w)
	.attr("height", h);

// solid mass of each chromosome
chrNames.forEach(function(name, i){
	svg.append("g").selectAll("rect")
		.data(allTops[i])
		.enter()
		.append("rect")
		.attr("x", function(d, b){ return x(chrStarts[i] + b * 2); })
		.attr("y", function(d){ return y(d); })
		.attr("width", function(d, b){ return x(chrStarts[i] + Math.min(b * 2 + 2, chrLengths[i])) - x(chrStarts[i] + b * 2); })
		.attr("height", function(d){ return y(0) - y(d); })
		.attr("fill", chrColors[i])
		.attr("shape-rendering", "crispEdges");
});

// specks
chrNames.forEach(function(name, i){
	svg.append("g").selectAll("rect")
		.data(allHoles[i].concat(rowsToPairs(allHoleRows[i])))
		.enter()
		.append("rect")
		.attr("x", function(d){ return x(chrStarts[i] + d[0]) - 1.1; })
		.attr("y", function(d){ return y(d[1]) - 1.1; })
		.attr("width", 2.2)
		.attr("height", 2.2)
		.attr("fill", "#fff");
});

// sparse points and crowded band
chrNames.forEach(function(name, i){
	svg.append("g").selectAll("rect")
		.data(allPoints[i].concat(rowsToPairs(allRows[i])))
		.enter()
		.append("rect")
		.attr("x", function(d){ return x(chrStarts[i] + d[0]) - size(d[1]) / 2; })
		.attr("y", function(d){ return y(d[1]) - size(d[1]) / 2; })
		.attr("width", function(d){ return size(d[1]); })
		.attr("height", function(d){ return size(d[1]); })
		.attr("fill", chrColors[i]);
});

// threshold line
svg.append("line")
	.attr("x1", 40).attr("x2", w)
	.attr("y1", y(threshold)).attr("y2", y(threshold))
	.attr("stroke", "#cf6464")
	.attr("stroke-width", 1.1);

// axes
var yAxis = d3.axisLeft(y)
	.tickValues(yTicks)
	.tickFormat(d3.format(".2f"))
	.tickSize(3);

var gy = svg.append("g")
	.attr("transform", "translate(40,0)")
	.call(yAxis);
gy.select(".domain").attr("stroke", "#111").attr("stroke-width", 1.5);
gy.selectAll(".tick line").attr("stroke", "#222");
gy.selectAll(".tick text")
	.attr("font-size", 9.8)
	.attr("font-family", "Open Sans")
	.attr("fill", "#333")
	.attr("x", -4)
	.attr("dy", function(d){ return d === 0 ? "0.1em" : "0.32em"; });

svg.append("line")
	.attr("x1", 40).attr("x2", w)
	.attr("y1", y(0) + 0.8).attr("y2", y(0) + 0.8)
	.attr("stroke", "#777")
	.attr("stroke-width", 1.6);

svg.append("text")
	.attr("transform", "translate(10,252) rotate(-90)")
	.attr("text-anchor", "middle")
	.attr("font-size", 10.7)
	.attr("fill", "#333")
	.text("\u2013log10 (p)");

// legend
var legend = svg.append("g").selectAll("g")
	.data(chrNames)
	.enter()
	.append("g")
	.attr("transform", function(d, i){
		var col = i < 11 ? 0 : 1;
		var row = i < 11 ? i : i - 11;
		return "translate(" + (63 + col * 58) + "," + (10.7 + row * 11.57) + ")";
	});

legend.append("rect")
	.attr("x", 0).attr("y", -2.5)
	.attr("width", 14.5).attr("height", 5)
	.attr("fill", function(d, i){ return i === 14 ? legendChr15Color : chrColors[i]; });

legend.append("text")
	.attr("x", function(d, i){ return i < 11 ? 19 : 17; })
	.attr("y", 3)
	.attr("font-size", 8.2)
	.attr("fill", "#444")
	.text(function(d){ return d; });
</script>
</body>
</html>
